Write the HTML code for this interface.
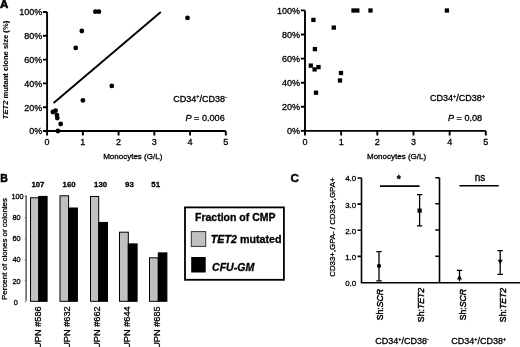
<!DOCTYPE html>
<html><head><meta charset="utf-8">
<style>
html,body{margin:0;padding:0;background:#fff;width:520px;height:347px;overflow:hidden}
svg{display:block;will-change:transform}
text{font-family:"Liberation Sans",sans-serif;fill:#000;stroke:#000;stroke-width:var(--sw,0.3)}
</style></head><body>
<svg width="520" height="347" viewBox="0 0 520 347">
<text x="0" y="8.1" font-size="11.5" font-weight="bold" style="--sw:0.6">A</text>
<g stroke="#000" stroke-width="1.9" fill="none">
<path d="M47.1,12 V131 H225.8"/>
<path d="M42.9,131.00H47.1M42.9,107.20H47.1M42.9,83.40H47.1M42.9,59.60H47.1M42.9,35.80H47.1M42.9,12.00H47.1"/>
<path d="M47.10,131V135.6M82.84,131V135.6M118.58,131V135.6M154.32,131V135.6M190.06,131V135.6M225.80,131V135.6"/>
</g>
<g font-size="9.0" text-anchor="end" style="--sw:0.3">
<text x="42.2" y="134.30">0%</text>
<text x="42.2" y="110.50">20%</text>
<text x="42.2" y="86.70">40%</text>
<text x="42.2" y="62.90">60%</text>
<text x="42.2" y="39.10">80%</text>
<text x="42.2" y="15.30">100%</text>
</g>
<g font-size="9.0" text-anchor="middle" style="--sw:0.3">
<text x="47.10" y="144.6">0</text>
<text x="82.84" y="144.6">1</text>
<text x="118.58" y="144.6">2</text>
<text x="154.32" y="144.6">3</text>
<text x="190.06" y="144.6">4</text>
<text x="225.80" y="144.6">5</text>
</g>
<text x="103.2" y="158.6" font-size="8">Monocytes (G/L)</text>
<text transform="translate(8.1,70) rotate(-90)" text-anchor="middle" font-size="7.6" font-weight="bold" style="--sw:0.1"><tspan font-style="italic">TET2</tspan> mutant clone size (%)</text>
<line x1="53.6" y1="103" x2="160.8" y2="12" stroke="#000" stroke-width="1.9"/>
<g fill="#000">
<circle cx="95.4" cy="11.7" r="2.4"/>
<circle cx="98.9" cy="11.7" r="2.4"/>
<circle cx="81.8" cy="31" r="2.4"/>
<circle cx="75.7" cy="47.9" r="2.4"/>
<circle cx="187.5" cy="17.9" r="2.4"/>
<circle cx="82.9" cy="100.4" r="2.4"/>
<circle cx="111.8" cy="85.9" r="2.4"/>
<circle cx="52.9" cy="112" r="2.4"/>
<circle cx="55.6" cy="110.7" r="2.4"/>
<circle cx="56.9" cy="115.1" r="2.4"/>
<circle cx="57.3" cy="118.1" r="2.4"/>
<circle cx="60.7" cy="124" r="2.4"/>
<circle cx="57.9" cy="131" r="2.4"/>
</g>
<text x="173.3" y="101.6" font-size="9.0" text-anchor="start">CD34<tspan font-size="5.40" dy="-3.2">+</tspan><tspan dy="3.2">/CD38</tspan><tspan font-size="5.40" dy="-2.3">-</tspan></text>
<text x="185.5" y="120.8" font-size="9.1"><tspan font-style="italic">P</tspan> = 0.006</text>
<g stroke="#000" stroke-width="1.9" fill="none">
<path d="M305,10.4 V130.9 H485.8"/>
<path d="M300.8,130.90H305M300.8,106.80H305M300.8,82.70H305M300.8,58.60H305M300.8,34.50H305M300.8,10.40H305"/>
<path d="M305.00,130.9V135.5M341.16,130.9V135.5M377.32,130.9V135.5M413.48,130.9V135.5M449.64,130.9V135.5M485.80,130.9V135.5"/>
</g>
<g font-size="9.0" text-anchor="end" style="--sw:0.3">
<text x="300.0" y="134.20">0%</text>
<text x="300.0" y="110.10">20%</text>
<text x="300.0" y="86.00">40%</text>
<text x="300.0" y="61.90">60%</text>
<text x="300.0" y="37.80">80%</text>
<text x="300.0" y="13.70">100%</text>
</g>
<g font-size="9.0" text-anchor="middle" style="--sw:0.3">
<text x="305.00" y="144.6">0</text>
<text x="341.16" y="144.6">1</text>
<text x="377.32" y="144.6">2</text>
<text x="413.48" y="144.6">3</text>
<text x="449.64" y="144.6">4</text>
<text x="485.80" y="144.6">5</text>
</g>
<text x="367" y="158.8" font-size="8">Monocytes (G/L)</text>
<g fill="#000">
<rect x="351.35" y="8.35" width="4.3" height="4.3"/>
<rect x="355.15" y="8.35" width="4.3" height="4.3"/>
<rect x="368.35" y="8.35" width="4.3" height="4.3"/>
<rect x="444.75" y="8.35" width="4.3" height="4.3"/>
<rect x="311.25" y="17.75" width="4.3" height="4.3"/>
<rect x="331.65" y="25.45" width="4.3" height="4.3"/>
<rect x="312.75" y="46.95" width="4.3" height="4.3"/>
<rect x="308.65" y="63.45" width="4.3" height="4.3"/>
<rect x="312.45" y="67.25" width="4.3" height="4.3"/>
<rect x="316.35" y="64.95" width="4.3" height="4.3"/>
<rect x="338.85" y="70.85" width="4.3" height="4.3"/>
<rect x="337.85" y="78.35" width="4.3" height="4.3"/>
<rect x="313.85" y="90.55" width="4.3" height="4.3"/>
</g>
<text x="430" y="101.4" font-size="9.0" text-anchor="start">CD34<tspan font-size="5.40" dy="-3.2">+</tspan><tspan dy="3.2">/CD38</tspan><tspan font-size="5.40" dy="-3.2">+</tspan></text>
<text x="448" y="120.8" font-size="9.1"><tspan font-style="italic">P</tspan> = 0.08</text>
<text x="0.2" y="181.8" font-size="10.5" font-weight="bold" style="--sw:0.5">B</text>
<g font-size="7.8" font-weight="bold" text-anchor="middle">
<text x="37.9" y="187.3">107</text>
<text x="69.1" y="187.3">160</text>
<text x="100.6" y="187.3">130</text>
<text x="129.4" y="187.3">93</text>
<text x="155.7" y="187.3">51</text>
</g>
<line x1="26.1" y1="195.3" x2="26.1" y2="300.8" stroke="#333" stroke-width="1.2"/>
<path d="M24.9,196.5H26M24.9,217.6H26M24.9,238.6H26M24.9,259.6H26M24.9,280.7H26M24.9,301.8H26" stroke="#555" stroke-width="1"/>
<g font-size="7.3">
<text x="11.5" y="199.1">100</text>
<text x="12.4" y="220.2">80</text>
<text x="12.4" y="241.3">60</text>
<text x="12.4" y="262.4">40</text>
<text x="12.4" y="283.5">20</text>
<text x="13.8" y="304.8">0</text>
</g>
<text transform="translate(6.6,249) rotate(-90)" text-anchor="middle" font-size="7.95">Percent of clones or colonies</text>
<g stroke="#000" stroke-width="1">
<rect x="30.5" y="197.8" width="8.3" height="103.5" fill="#c0c0c0"/>
<rect x="38.8" y="196.4" width="8.3" height="104.9" fill="#000"/>
<rect x="60" y="195.8" width="8.6" height="105.5" fill="#c0c0c0"/>
<rect x="68.6" y="208" width="8.8" height="93.3" fill="#000"/>
<rect x="90.5" y="196.5" width="8.2" height="104.8" fill="#c0c0c0"/>
<rect x="98.7" y="222.4" width="8.8" height="78.9" fill="#000"/>
<rect x="119.5" y="232.2" width="8.8" height="69.1" fill="#c0c0c0"/>
<rect x="128.3" y="243.9" width="8.8" height="57.4" fill="#000"/>
<rect x="149.5" y="257.8" width="8.8" height="43.5" fill="#c0c0c0"/>
<rect x="158.3" y="252.9" width="8.6" height="48.4" fill="#000"/>
</g>
<g font-size="9.2" text-anchor="end">
<text transform="translate(41,306.4) rotate(-90)">UPN #586</text>
<text transform="translate(70.2,306.4) rotate(-90)">UPN #632</text>
<text transform="translate(100.2,306.4) rotate(-90)">UPN #662</text>
<text transform="translate(130.2,306.4) rotate(-90)">UPN #644</text>
<text transform="translate(160.2,306.4) rotate(-90)">UPN #685</text>
</g>
<rect x="185" y="207.4" width="98.9" height="72.4" fill="none" stroke="#000" stroke-width="1.8"/>
<text x="195" y="221" font-size="10.5" font-weight="bold">Fraction of CMP</text>
<rect x="191.3" y="231.6" width="14.4" height="14.8" fill="#c0c0c0" stroke="#333" stroke-width="1"/>
<rect x="191.2" y="257" width="14.5" height="15.5" fill="#000"/>
<text x="210.8" y="242.7" font-size="10.7" font-weight="bold"><tspan font-style="italic">TET2</tspan> mutated</text>
<text x="212" y="270.9" font-size="10.6" font-weight="bold" font-style="italic">CFU-GM</text>
<text x="290.5" y="182.3" font-size="11.8" font-weight="bold" style="--sw:0.4">C</text>
<text transform="translate(335.3,227.1) rotate(-90)" text-anchor="middle" font-size="7.85">CD33+,GPA- / CD33+,GPA+</text>
<g stroke="#000" stroke-width="1.6" fill="none">
<path d="M361.5,178V282.7H520"/>
<path d="M357.5,178H361.5M357.5,204.1H361.5M357.5,230.2H361.5M357.5,256.4H361.5"/>
<path d="M439.5,177.7V282.7"/>
<path d="M435.3,177.7H439.5M435.3,203.8H439.5M435.3,230H439.5M435.3,256.2H439.5"/>
<path d="M380,186.1H419.6M459.4,185.8H498.8"/>
</g>
<g font-size="7.9" text-anchor="end">
<text x="356.2" y="181.4">4.0</text>
<text x="356.2" y="207.6">3.0</text>
<text x="356.2" y="233.7">2.0</text>
<text x="356.2" y="259.9">1.0</text>
<text x="356.2" y="286.0">0.0</text>
</g>
<text x="398.7" y="182.8" font-size="10.5" font-weight="bold" text-anchor="middle">*</text>
<text x="480.1" y="180.6" font-size="10" text-anchor="middle">ns</text>
<g stroke="#000" stroke-width="1.3" fill="none">
<path d="M379,251.6V280.9M376.3,251.6H381.7M376.3,280.9H381.7"/>
<path d="M419.6,194.7V225.8M416.9,194.7H422.3M416.9,225.8H422.3"/>
<path d="M459.5,270.4V281.3M456.8,270.4H462.2"/>
<path d="M500.2,250.7V274.4M497.4,250.7H503M497.4,274.4H503"/>
</g>
<g fill="#000">
<circle cx="379" cy="265.9" r="2.1"/>
<rect x="417.5" y="208.5" width="4.2" height="4.2"/>
<path d="M459.5,274.6L461.9,279.4L457.1,279.4Z"/>
<path d="M497.7,259.8L502.7,259.8L500.2,264.3Z"/>
</g>
<g font-size="8.7" style="--sw:0.45" text-anchor="middle">
<text transform="translate(383.2,304.6) rotate(-90)">Sh:<tspan font-style="italic">SCR</tspan></text>
<text transform="translate(424,305) rotate(-90)">Sh:<tspan font-style="italic">TET2</tspan></text>
<text transform="translate(466,304.6) rotate(-90)">Sh:<tspan font-style="italic">SCR</tspan></text>
<text transform="translate(505.8,305) rotate(-90)">Sh:<tspan font-style="italic">TET2</tspan></text>
</g>
<text x="375.3" y="343.7" font-size="9.0" text-anchor="start">CD34<tspan font-size="5.40" dy="-3.2">+</tspan><tspan dy="3.2">/CD38</tspan><tspan font-size="5.40" dy="-2.3">-</tspan></text>
<text x="451.3" y="343.7" font-size="9.0" text-anchor="start">CD34<tspan font-size="5.40" dy="-3.2">+</tspan><tspan dy="3.2">/CD38</tspan><tspan font-size="5.40" dy="-3.2">+</tspan></text>
</svg>
</body></html>
